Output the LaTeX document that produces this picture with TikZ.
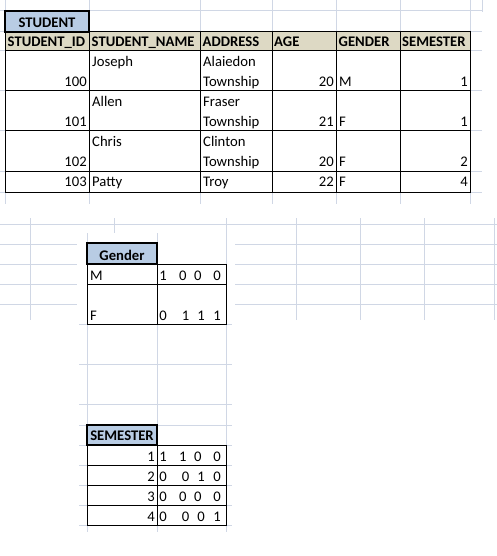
\documentclass[tikz,border=0pt]{standalone}
\usepackage{fontspec}
\setmainfont{Carlito}
\definecolor{gridline}{HTML}{D0D7E5}
\definecolor{tanfill}{HTML}{DDD9C4}
\definecolor{bluefill}{HTML}{B8CCE4}
\begin{document}
\begin{tikzpicture}[x=1pt, y=-1pt,
    every node/.style={font=\fontsize{14.67}{17}\selectfont, inner sep=0pt},
    grid/.style={draw=gridline, line width=1pt},
    cellline/.style={draw=black, line width=1pt},
    titlebox/.style={draw=black, line width=2pt, fill=bluefill},
    lft/.style={anchor=base west},
    rgt/.style={anchor=base east},
    bit/.style={anchor=base},
    hdr/.style={anchor=base, font=\fontsize{14.67}{17}\selectfont\bfseries}]
\useasboundingbox (0,0) rectangle (497,556);
% sheet grid, top
\foreach \y in {11,32,51,91,131,171,192} \draw[grid] (0,\y) -- (482,\y);
\foreach \x in {5,89,200,272,336,400,470} \draw[grid] (\x,0) -- (\x,204);
\draw[grid] (482,0) -- (482,12);
% sheet grid, middle
\foreach \y in {224,244,264,284,304} \draw[grid] (0,\y) -- (497,\y);
\foreach \x in {30,114,226,296,360,424,494} \draw[grid] (\x,218) -- (\x,320);
\fill[white] (77,233) rectangle (235,540);
\foreach \y in {324,364,404,425,445,465,485,505,525} \draw[grid] (79,\y) -- (232,\y);
\foreach \x in {87,157,226} \draw[grid] (\x,233) -- (\x,532);

% STUDENT table
\fill[tanfill] (5,32) rectangle (470,51);
\fill[white] (5,51) rectangle (470,192);
\draw[cellline] (5,32) rectangle (470,192);
\foreach \y in {51,91,131,171} \draw[cellline] (5,\y) -- (470,\y);
\foreach \x in {89,200,272,336,400} \draw[cellline] (\x,32) -- (\x,192);
\draw[titlebox] (5,11) rectangle (89,32);
\node[hdr] (student) at (47,27.3) {STUDENT};
\node[hdr, anchor=base west] (h-id) at (7.5,46.7) {STUDENT\_ID};
\node[hdr, anchor=base west] (h-name) at (91.5,46.7) {STUDENT\_NAME};
\node[hdr, anchor=base west] (h-addr) at (202.5,46.7) {ADDRESS};
\node[hdr, anchor=base west] (h-age) at (274,46.7) {AGE};
\node[hdr, anchor=base west] (h-gender) at (338.5,46.7) {GENDER};
\node[hdr, anchor=base west] (h-sem) at (402,46.7) {SEMESTER};
\foreach \t/\id/\nm/\ad/\ag/\gd/\sm in {51/100/Joseph/Alaiedon/20/M/1,
    91/101/Allen/Fraser/21/F/1, 131/102/Chris/Clinton/20/F/2} {
  \node[lft] (name-\id) at (92,\t+15.7) {\nm};
  \node[lft] (addr-\id) at (203,\t+15.7) {\ad};
  \node[lft] (town-\id) at (203,\t+35.7) {Township};
  \node[rgt] (id-\id) at (87,\t+35.7) {\id};
  \node[rgt] (age-\id) at (334,\t+35.7) {\ag};
  \node[lft] (gd-\id) at (339,\t+35.7) {\gd};
  \node[rgt] (sem-\id) at (468,\t+35.7) {\sm};
}
\node[rgt] (id-103) at (87,186.7) {103};
\node[lft] (name-103) at (92,186.7) {Patty};
\node[lft] (addr-103) at (203,186.7) {Troy};
\node[rgt] (age-103) at (334,186.7) {22};
\node[lft] (gd-103) at (339,186.7) {F};
\node[rgt] (sem-103) at (468,186.7) {4};

% Gender table
\fill[white] (87,264) rectangle (226,324);
\draw[cellline] (87,264) rectangle (226,324);
\draw[cellline] (87,284) -- (226,284);
\draw[cellline] (157,264) -- (157,324);
\draw[titlebox] (87,243) rectangle (157,264);
\node[hdr] (gender) at (122,260) {Gender};
\node[lft] (g-m) at (90,280) {M};
\node[lft] (g-f) at (90,320) {F};
\foreach \x/\v [count=\k] in {163/1,182.8/0,197.8/0,217/0} \node[bit] (gm-\k) at (\x,280) {\v};
\foreach \x/\v [count=\k] in {163/0,185.5/1,201/1,217/1} \node[bit] (gf-\k) at (\x,320) {\v};

% SEMESTER table
\fill[white] (87,445) rectangle (226,525);
\draw[cellline] (87,445) rectangle (226,525);
\foreach \y in {465,485,505} \draw[cellline] (87,\y) -- (226,\y);
\draw[cellline] (157,445) -- (157,525);
\draw[titlebox] (87,425) rectangle (157,445);
\node[hdr] (semester) at (122,440.7) {SEMESTER};
\foreach \n in {1,2,3,4} \node[rgt] (s-\n) at (155,425+20*\n+16) {\n};
\foreach \x/\v [count=\k] in {163/1,182.8/1,197.8/0,217/0} \node[bit] (s1-\k) at (\x,461) {\v};
\foreach \x/\v [count=\k] in {163/0,185.5/0,201/1,217/0} \node[bit] (s2-\k) at (\x,481) {\v};
\foreach \x/\v [count=\k] in {163/0,182.8/0,197.8/0,217/0} \node[bit] (s3-\k) at (\x,501) {\v};
\foreach \x/\v [count=\k] in {163/0,185.5/0,201/0,217/1} \node[bit] (s4-\k) at (\x,521) {\v};
\end{tikzpicture}
\end{document}
